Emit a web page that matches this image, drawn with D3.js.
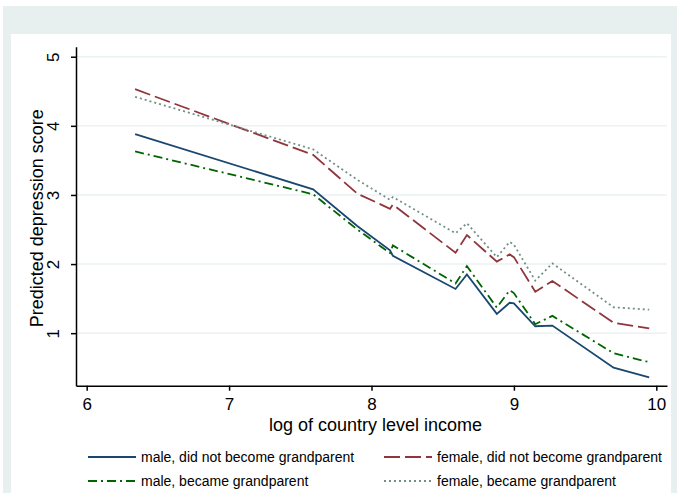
<!DOCTYPE html>
<html><head><meta charset="utf-8">
<script src="https://cdn.jsdelivr.net/npm/d3@7"></script>
<style>body{margin:0;background:#fff;}svg{display:block;font-family:"Liberation Sans",Arial,sans-serif;}</style>
</head><body><svg id="c" width="677" height="493"></svg>
<script>
const income = [6.34, 7.59, 7.9, 8.13, 8.15, 8.59, 8.67, 8.88, 8.97, 9.0, 9.15, 9.27, 9.70, 9.95];
const maleNoGp   = [3.88, 3.08, 2.55, 2.20, 2.12, 1.64, 1.85, 1.28, 1.44, 1.43, 1.10, 1.11, 0.50, 0.36];
const femaleNoGp = [4.53, 3.58, 3.02, 2.80, 2.86, 2.165, 2.42, 2.035, 2.14, 2.10, 1.60, 1.755, 1.15, 1.07];
const maleGp     = [3.63, 3.01, 2.50, 2.16, 2.27, 1.72, 1.97, 1.37, 1.62, 1.58, 1.13, 1.25, 0.71, 0.58];
const femaleGp   = [4.42, 3.66, 3.22, 2.93, 2.97, 2.445, 2.59, 2.10, 2.32, 2.28, 1.76, 2.01, 1.375, 1.34];
const xTicks = [6, 7, 8, 9, 10];
const yTicks = [1, 2, 3, 4, 5];
const seriesNames = ["male, did not become grandparent", "female, did not become grandparent", "male, became grandparent", "female, became grandparent"];

const series = [
  {name: seriesNames[0], vals: maleNoGp,   color: "#1a476f", dash: null},
  {name: seriesNames[1], vals: femaleNoGp, color: "#90353b", dash: "16,5"},
  {name: seriesNames[2], vals: maleGp,     color: "#006400", dash: "9,4,2,4"},
  {name: seriesNames[3], vals: femaleGp,   color: "#748f87", dash: "2,3"}
];

const svg = d3.select("#c");
svg.append("rect").attr("x",3).attr("y",6).attr("width",674).attr("height",487).attr("fill","#e7f0ee");
svg.append("rect").attr("x",11).attr("y",34).attr("width",660).attr("height",459).attr("fill","#fff");

const L = 76, R = 667, T = 46.7, B = 385.7;
const x = d3.scaleLinear().domain([5.925, 10.075]).range([L, R]);
const y = d3.scaleLinear().domain([0.24, 5.145]).range([B, T]);

svg.append("g").selectAll("line").data(yTicks).join("line")
  .attr("x1", L+1).attr("x2", R).attr("y1", d=>y(d)).attr("y2", d=>y(d))
  .attr("stroke", "#eaf2f3").attr("stroke-width", 1.5);

const yAxis = svg.append("g").attr("transform", `translate(${L},0)`)
  .call(d3.axisLeft(y).tickValues(yTicks).tickSize(5).tickSizeOuter(0).tickFormat(d3.format("d")));
const xAxis = svg.append("g").attr("transform", `translate(0,${B})`)
  .call(d3.axisBottom(x).tickValues(xTicks).tickSize(5).tickSizeOuter(0).tickFormat(d3.format("d")));
[yAxis, xAxis].forEach(g => {
  g.select(".domain").attr("stroke", "#000").attr("stroke-width", 1.5);
  g.selectAll(".tick line").attr("stroke", "#000").attr("stroke-width", 1.5);
  g.selectAll("text").attr("font-size", 17).attr("fill", "#000").attr("font-family", "Liberation Sans, Arial, sans-serif");
});
xAxis.selectAll("text").attr("dy", "0.71em").attr("y", 12);
yAxis.selectAll(".tick text")
  .attr("x", null).attr("dy", null)
  .attr("transform", "translate(-17,0) rotate(-90)")
  .attr("text-anchor", "middle").attr("y", 0);

svg.append("text").attr("x", (L+R)/2 + 4).attr("y", 431).attr("text-anchor", "middle")
  .attr("font-size", 18).text("log of country level income");
svg.append("text").attr("transform", `translate(43,${(T+B)/2 + 2}) rotate(-90)`).attr("text-anchor", "middle")
  .attr("font-size", 18).text("Predicted depression score");

const line = d3.line().x((d,i)=>x(income[i])).y(d=>y(d));
svg.append("g").selectAll("path").data(series).join("path")
  .attr("d", d=>line(d.vals)).attr("fill","none")
  .attr("stroke", d=>d.color).attr("stroke-width", 1.8)
  .attr("stroke-dasharray", d=>d.dash);

const legPos = [[88, 457], [384, 457], [88, 481], [384, 481]];
const lg = svg.append("g").selectAll("g").data(series).join("g")
  .attr("transform", (d,i)=>`translate(${legPos[i][0]},${legPos[i][1]})`);
lg.append("line").attr("x1",0).attr("x2",48).attr("y1",0).attr("y2",0)
  .attr("stroke", d=>d.color).attr("stroke-width", 1.8).attr("stroke-dasharray", d=>d.dash);
lg.append("text").attr("x", 53).attr("y", 0).attr("dy","0.35em").attr("font-size", 14).text(d=>d.name);
</script></body></html>
